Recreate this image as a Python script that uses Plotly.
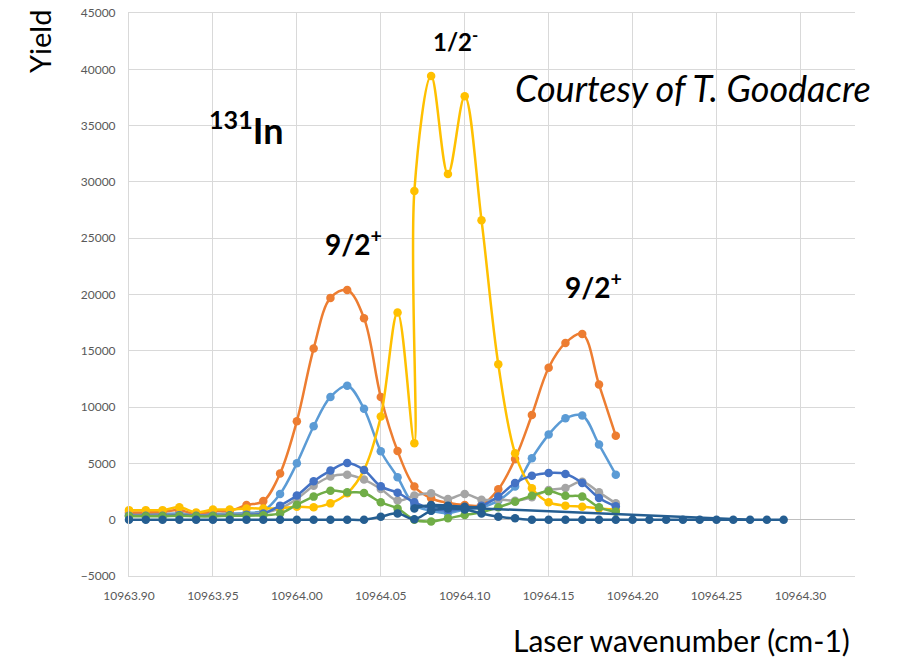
import plotly.graph_objects as go

# ---------------- data ----------------
wavenumber = [10963.90, 10963.91, 10963.92, 10963.93, 10963.94, 10963.95, 10963.96, 10963.97,
              10963.98, 10963.99, 10964.00, 10964.01, 10964.02, 10964.03, 10964.04, 10964.05,
              10964.06, 10964.07, 10964.08, 10964.09, 10964.10, 10964.11, 10964.12, 10964.13,
              10964.14, 10964.15, 10964.16, 10964.17, 10964.18, 10964.19]

wavenumber_yellow = [10963.90, 10963.91, 10963.92, 10963.93, 10963.94, 10963.95, 10963.96, 10963.97,
                     10963.98, 10963.99, 10964.00, 10964.01, 10964.02, 10964.03, 10964.04, 10964.05,
                     10964.06, 10964.07, 10964.07, 10964.08, 10964.09, 10964.10, 10964.11, 10964.12,
                     10964.13, 10964.14, 10964.15, 10964.16, 10964.17, 10964.18, 10964.19]

wavenumber_long = [10963.90, 10963.91, 10963.92, 10963.93, 10963.94, 10963.95, 10963.96, 10963.97,
                   10963.98, 10963.99, 10964.00, 10964.01, 10964.02, 10964.03, 10964.04, 10964.05,
                   10964.06, 10964.07, 10964.08, 10964.09, 10964.10, 10964.11, 10964.12, 10964.13,
                   10964.14, 10964.15, 10964.16, 10964.17, 10964.18, 10964.19, 10964.20, 10964.21,
                   10964.22, 10964.23, 10964.24, 10964.25, 10964.26, 10964.27, 10964.28, 10964.29]

light_blue = [500, 500, 500, 550, 450, 500, 550, 600, 800, 2290, 5010, 8300, 10900, 11900, 9850,
              6080, 3770, 1300, 800, 600, 900, 1100, 1700, 2950, 5460, 7560, 9000, 9250, 6670, 4000]
orange = [650, 650, 700, 850, 500, 750, 800, 1300, 1650, 4100, 8750, 15200, 19700, 20400, 17900,
          10900, 6100, 2950, 1900, 1500, 1300, 1300, 2700, 5400, 9300, 13500, 15700, 16500, 12000, 7450]
gray = [400, 400, 400, 450, 400, 400, 450, 500, 600, 1000, 1840, 3020, 3830, 4000, 3560,
        2730, 1700, 2140, 2340, 1840, 2290, 1780, 1800, 1690, 1990, 2640, 2820, 3380, 2430, 1450]
yellow = [850, 850, 850, 1100, 650, 900, 900, 1000, 1000, 1000, 1150, 1100, 1450, 2340, 4420,
          9160, 18400, 6800, 29200, 39400, 30700, 37600, 26600, 13800, 5900, 2800, 1550, 1250,
          1150, 1000, 900]
blue = [350, 350, 350, 400, 350, 350, 400, 450, 550, 1250, 2140, 3410, 4360, 5040, 4420,
        2960, 2400, 1540, 1000, 800, 1000, 1250, 2050, 3260, 3910, 4150, 4060, 3260, 1930, 1190]
green = [300, 300, 300, 350, 300, 300, 350, 350, 400, 560, 1330, 2050, 2580, 2430, 2370,
         1540, 1000, 0, -150, 120, 420, 650, 1100, 1600, 2130, 2520, 2130, 2050, 1100, 710]
navy = [0, 0, 0, 0, 0, 0, 0, 0, 0, 0, 0, 0, 0, 0, 0, 270, 560, 50, 800, 1000, 900, 560, 270, 120,
        0, 0, 0, 0, 0, 0, 0, 0, 0, 0, 0, 0, 0, 0, 0, 0]

dark_x = [10964.07, 10964.08, 10964.09, 10964.10, 10964.11]
dark_y = [1000, 1300, 1250, 1150, 1100]
tail_x = [10964.07, 10964.27]
tail_y = [1250, 0]

x_ticks = [10963.90, 10963.95, 10964.00, 10964.05, 10964.10, 10964.15, 10964.20, 10964.25, 10964.30]
y_ticks = [-5000, 0, 5000, 10000, 15000, 20000, 25000, 30000, 35000, 40000, 45000]

# ---------------- figure ----------------
FONT = "Lato"
fig = go.Figure()

series = [
    (wavenumber, light_blue, "#5B9BD5"),
    (wavenumber, orange, "#ED7D31"),
    (wavenumber, gray, "#A5A5A5"),
    (wavenumber_yellow, yellow, "#FFC000"),
    (wavenumber, blue, "#4472C4"),
    (wavenumber, green, "#70AD47"),
    (wavenumber_long, navy, "#255E91"),
]
for xs, ys, col in series:
    fig.add_trace(go.Scatter(
        x=xs, y=ys, mode="lines+markers",
        line=dict(color=col, width=2.5, shape="spline", smoothing=1.0),
        marker=dict(color=col, size=8.5),
        cliponaxis=False, showlegend=False, hoverinfo="skip"))

fig.add_trace(go.Scatter(x=dark_x, y=dark_y, mode="lines+markers",
                         line=dict(color="#255E91", width=2.5, shape="spline"),
                         marker=dict(color="#255E91", size=8.5),
                         showlegend=False, hoverinfo="skip"))
fig.add_trace(go.Scatter(x=tail_x, y=tail_y, mode="lines",
                         line=dict(color="#255E91", width=2.5),
                         showlegend=False, hoverinfo="skip"))

L, R, T, B = 129, 855, 13, 576
W, H = 898, 657


def px(xp):
    return (xp - L) / (R - L)


def py(yp):
    return (B - yp) / (B - T)


annots = [
    dict(text="Yield", x=px(40), y=py(42), textangle=-90, font=dict(size=29, color="#000000", family=FONT)),
    dict(text="Laser wavenumber (cm-1)", x=px(681), y=py(640), font=dict(size=30, color="#000000", family=FONT)),
    dict(text="<i>Courtesy of T. Goodacre</i>", x=px(693), y=py(88), font=dict(size=36, color="#000000", family=FONT)),
    dict(text="<b><sup>131</sup>In</b>", x=px(246), y=py(128), font=dict(size=36, color="#000000", family=FONT)),
    dict(text="<b>9/2<sup>+</sup></b>", x=px(353), y=py(242), font=dict(size=28, color="#000000", family=FONT)),
    dict(text="<b>1/2<sup>-</sup></b>", x=px(455), y=py(40), font=dict(size=24, color="#000000", family=FONT)),
    dict(text="<b>9/2<sup>+</sup></b>", x=px(593), y=py(285), font=dict(size=28, color="#000000", family=FONT)),
]
for a in annots:
    a.update(xref="paper", yref="paper", showarrow=False, xanchor="center", yanchor="middle")

fig.update_layout(
    width=W, height=H,
    margin=dict(l=L, r=W - R, t=T, b=H - B, autoexpand=False),
    paper_bgcolor="white", plot_bgcolor="white",
    annotations=annots,
    font=dict(family=FONT, color="#595959"),
    xaxis=dict(range=[10963.90, 10964.3325], tickvals=x_ticks, tickformat=".2f",
               automargin=False,
               showgrid=True, gridcolor="#D9D9D9", gridwidth=1,
               showline=True, linecolor="#D9D9D9", linewidth=1, mirror=True,
               zeroline=False, ticks="", ticklabelstandoff=9,
               tickfont=dict(size=12, color="#595959", family=FONT)),
    yaxis=dict(range=[-5000, 45000], tickvals=y_ticks, tickformat="d",
               automargin=False,
               showgrid=True, gridcolor="#D9D9D9", gridwidth=1,
               showline=True, linecolor="#D9D9D9", linewidth=1,
               zeroline=True, zerolinecolor="#BFBFBF", zerolinewidth=1,
               ticks="", ticklabelstandoff=10,
               tickfont=dict(size=12, color="#595959", family=FONT)),
)

fig.write_html("out.html")
